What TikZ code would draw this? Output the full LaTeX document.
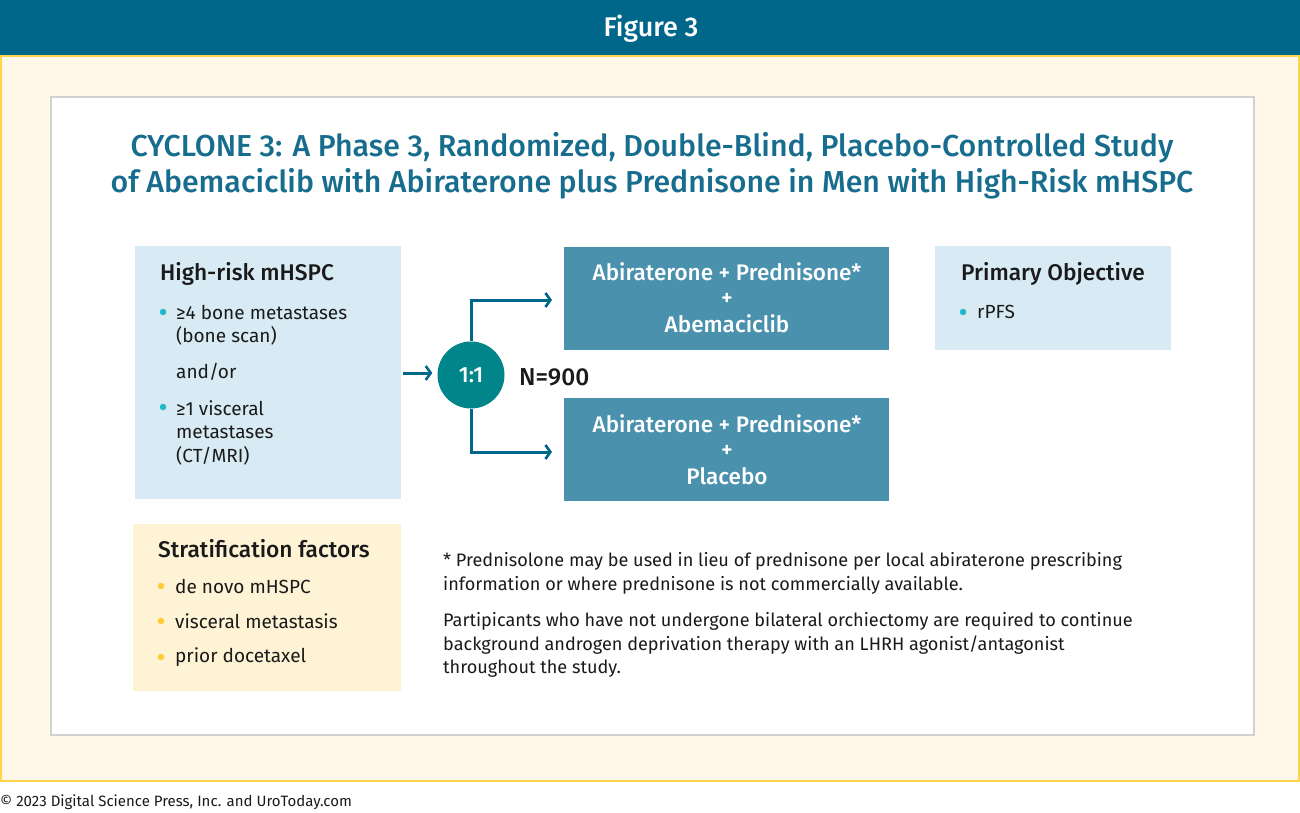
\documentclass[tikz,border=0pt]{standalone}
\usepackage{fontspec}
\setmainfont{Fira Sans}[BoldFont={Fira Sans Medium}]
\usetikzlibrary{arrows.meta,calc}
\definecolor{hdr}{HTML}{00668A}
\definecolor{ttl}{HTML}{176D8E}
\definecolor{armc}{HTML}{4A91AE}
\definecolor{circc}{HTML}{00868A}
\definecolor{lblue}{HTML}{D8EBF4}
\definecolor{lcream}{HTML}{FFF3D6}
\definecolor{pcream}{HTML}{FFF8EA}
\definecolor{ybord}{HTML}{FFD54A}
\definecolor{gbord}{HTML}{D2D2D2}
\definecolor{cyanb}{HTML}{1FB9C8}
\definecolor{yelb}{HTML}{FFCC33}
\definecolor{txt}{HTML}{1A1A1A}
\tikzset{
  box/.style={draw=none,minimum width=#1,inner sep=0pt,anchor=north west},
  lt/.style={anchor=west,inner sep=0pt,font=\fontsize{19}{23}\selectfont,text=txt},
  hd/.style={anchor=west,inner sep=0pt,font=\fontsize{22.7}{26}\selectfont\bfseries,text=txt},
  armt/.style={anchor=center,inner sep=0pt,font=\fontsize{22.5}{26}\selectfont\bfseries,text=white},
  ft/.style={anchor=west,inner sep=0pt,font=\fontsize{18.1}{22}\selectfont,text=txt},
  cdot/.style={circle,fill=cyanb,inner sep=0pt,minimum size=6.5pt},
  ydot/.style={circle,fill=yelb,inner sep=0pt,minimum size=6.5pt},
  arr/.style={draw=hdr,line width=3pt,-{Straight Barb[length=5pt,width=14pt,line width=2.6pt]}},
}
\begin{document}
\begin{tikzpicture}[x=1pt,y=-1pt]
\useasboundingbox (0,0) rectangle (1300,813);
% header band
\fill[hdr] (0,0) rectangle (1300,56);
\node[font=\fontsize{27}{30}\selectfont\bfseries,text=white] (fig) at (651,29) {Figure 3};
% cream panel
\draw[fill=pcream,draw=ybord,line width=2pt] (1,56) rectangle (1299,781);
% white panel
\draw[fill=white,draw=gbord,line width=2pt] (51,97) rectangle (1254,735);
% title
\node[font=\fontsize{30.3}{36}\selectfont\bfseries,text=ttl,align=center,inner sep=0pt] (title) at (652,165.5)
  {CYCLONE 3: A Phase 3, Randomized, Double-Blind, Placebo-Controlled Study\\
   of Abemaciclib with Abiraterone plus Prednisone in Men with High-Risk mHSPC};
% left box
\fill[lblue] (135,246) rectangle (401,499);
\node[hd] (hrh) at (160,274) {High-risk mHSPC};
\node[cdot] (b1) at (163,312) {};
\node[lt] (t1) at (176,312) {≥4 bone metastases};
\node[lt] (t2) at (176,336) {(bone scan)};
\node[lt] (t3) at (176,372) {and/or};
\node[cdot] (b2) at (163,407) {};
\node[lt] (t4) at (176,408) {≥1 visceral};
\node[lt] (t5) at (176,432) {metastases};
\node[lt] (t6) at (176,456) {(CT/MRI)};
% stratification box
\fill[lcream] (133,524) rectangle (401,691);
\node[hd] (sh) at (158,549) {Stratification factors};
\node[ydot] (s1) at (161,586) {};
\node[lt] (st1) at (175,586) {de novo mHSPC};
\node[ydot] (s2) at (161,621) {};
\node[lt] (st2) at (175,621) {visceral metastasis};
\node[ydot] (s3) at (161,657) {};
\node[lt] (st3) at (175,657) {prior docetaxel};
% circle
\node[circle,fill=circc,minimum size=67pt,inner sep=0pt,text=white,font=\fontsize{22}{25}\selectfont\bfseries] (c) at (471,375) {1:1};
\node[anchor=west,inner sep=0pt,font=\fontsize{24.5}{27}\selectfont\bfseries,text=txt] (n) at (519,377) {N=900};
% arm boxes
\node[box=325pt,minimum height=103pt,fill=armc] (arm1) at (564,247) {};
\node[armt] (a1a) at (727,272) {Abiraterone + Prednisone*};
\node[armt] (a1b) at (727,299) {+};
\node[armt] (a1c) at (727,324) {Abemaciclib};
\node[box=325pt,minimum height=103pt,fill=armc] (arm2) at (564,398) {};
\node[armt] (a2a) at (727,424) {Abiraterone + Prednisone*};
\node[armt] (a2b) at (727,451) {+};
\node[armt] (a2c) at (727,476) {Placebo};
% primary objective
\fill[lblue] (935,246) rectangle (1171,350);
\node[hd] (ph) at (961,274) {Primary Objective};
\node[cdot] (pb) at (963,312) {};
\node[lt] (pt) at (977,312) {rPFS};
% arrows
\coordinate (aL) at (403,373);
\draw[arr] (aL) -- ([xshift=-5pt]c.west |- aL);
\coordinate (up) at (552,300);
\coordinate (dn) at (552,452);
\draw[arr] (c.north) |- (up);
\draw[arr] (c.south) |- (dn);
% footnotes
\node[ft] (f1) at (443,561) {* Prednisolone may be used in lieu of prednisone per local abiraterone prescribing};
\node[ft] (f2) at (443,585) {information or where prednisone is not commercially available.};
\node[ft] (f3) at (443,621) {Partipicants who have not undergone bilateral orchiectomy are required to continue};
\node[ft] (f4) at (443,645) {background androgen deprivation therapy with an LHRH agonist/antagonist};
\node[ft] (f5) at (443,669) {throughout the study.};
% copyright
\node[anchor=west,inner sep=0pt,font=\fontsize{15}{18}\selectfont,text=txt] (copy) at (0,802) {© 2023 Digital Science Press, Inc. and UroToday.com};
\end{tikzpicture}
\end{document}
